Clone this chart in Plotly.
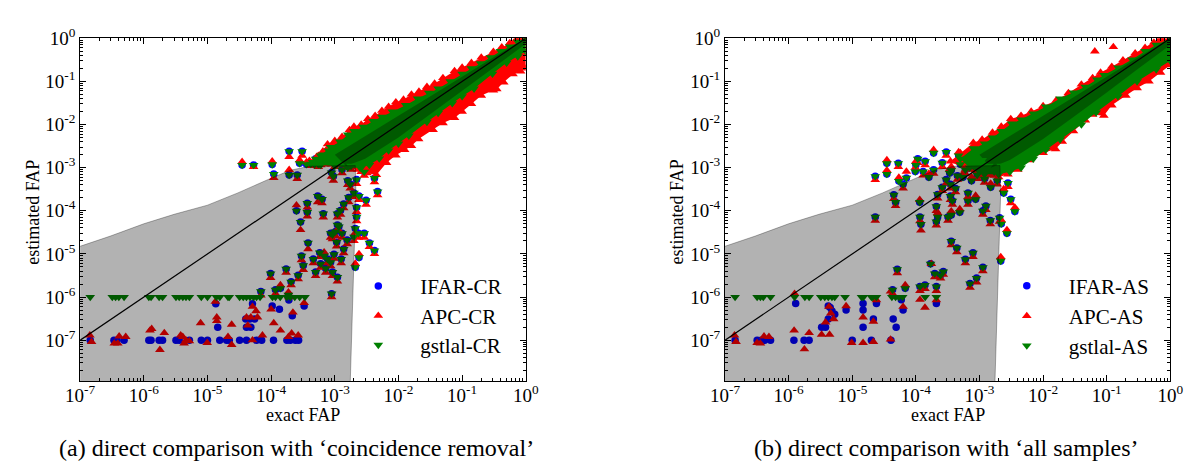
import plotly.graph_objects as go

W, H = 1198, 465
FONT = "Liberation Serif"

# ---------------- axis ticks ----------------
DECADES = list(range(-7, 1))
TICK_VALS = [10.0 ** e for e in DECADES]
TICK_TEXT = ["10<sup>%d</sup>" % e for e in DECADES]
MINOR_VALS = [k * 10.0 ** e for e in range(-8, 0) for k in range(2, 10)]

# ---------------- shaded region (same in both panels) ----------------
SHADE_UPPER = [(9e-8, 1.43e-5), (3e-7, 2.6e-5), (1e-6, 5.0e-5), (3e-6, 8.3e-5), (1e-5, 1.35e-4),
               (3e-5, 2.6e-4), (1e-4, 5.7e-4), (2e-4, 8.7e-4), (4e-4, 1.08e-3), (1e-3, 1.12e-3),
               (2.1e-3, 1.12e-3)]
SHADE_RIGHT = [(2.15e-3, 2.5e-4), (2.0e-3, 5e-6), (1.74e-3, 8e-9), (9e-8, 8e-9)]
DIAG = [1e-7, 1.0]

# ================= panel (a): coincidence removal =================
CR_IFAR = [
    (1.44e-7, 1e-7), (3.4e-7, 1e-7), (3.8e-7, 1e-7), (4.9e-7, 1e-7), (1.2e-6, 1e-7), (1.3e-6, 1e-7),
    (1.74e-6, 1e-7), (1.97e-6, 1e-7), (3.2e-6, 1e-7), (3.6e-6, 1e-7), (5.2e-6, 1e-7), (8.0e-6, 1e-7),
    (1.0e-5, 1e-7), (1.56e-5, 1e-7), (2.0e-5, 1e-7), (2.2e-5, 1e-7), (3.2e-5, 1e-7), (4.1e-5, 1e-7),
    (5.9e-5, 1e-7), (7.1e-5, 1e-7), (1.09e-4, 1e-7), (1.77e-4, 1e-7), (2.0e-4, 1e-7), (2.4e-4, 1e-7),
    (2.7e-4, 1e-7),
    (1.35e-5, 7.0e-7), (1.45e-5, 2.0e-7), (4.0e-5, 3.1e-7), (4.1e-5, 2.0e-7), (4.6e-5, 3.1e-7),
    (4.8e-5, 2.0e-7), (5.1e-5, 7.0e-7), (5.5e-5, 3.1e-7), (1.04e-4, 6.2e-7), (1.35e-4, 5.2e-7),
    (1.9e-4, 8.5e-7), (2.15e-4, 3.7e-7), (3.3e-4, 6.2e-7),
    (8.9e-4, 1.2e-6), (6.9e-5, 1.35e-6), (9.8e-5, 3.5e-6), (1.17e-4, 1.47e-6), (1.4e-4, 1.6e-6),
    (1.72e-4, 4.5e-6), (1.87e-4, 1.13e-6), (2.06e-4, 2.26e-6), (2.66e-4, 3.2e-6), (3.0e-4, 9.0e-6),
    (3.2e-4, 5.4e-6), (4.6e-4, 7.6e-6), (5.0e-4, 3.8e-6), (5.8e-4, 1.07e-5), (6.0e-4, 5.9e-6),
    (6.8e-4, 9.0e-6), (7.2e-4, 4.6e-6), (7.7e-4, 7.6e-6), (8.6e-4, 6.4e-6), (9.2e-4, 3.8e-6),
    (9.7e-4, 9.8e-6), (1.1e-3, 2.9e-6), (1.26e-3, 7.6e-6), (2.1e-3, 4.9e-6), (2.4e-3, 8.3e-6),
    (3.8e-4, 1.8e-5), (2.9e-4, 5.5e-5), (2.5e-4, 1.0e-4), (3.7e-4, 9.3e-5), (6.6e-4, 8.6e-5),
    (9.2e-4, 2.8e-5), (1.03e-3, 3.3e-5), (1.07e-3, 1.87e-5), (1.1e-3, 4.7e-5), (1.16e-3, 4.3e-5),
    (8.6e-4, 3.0e-5), (1.1e-3, 8.6e-5), (1.23e-3, 1.02e-4), (1.3e-3, 3.0e-5), (1.38e-3, 1.3e-5),
    (1.56e-3, 2.1e-5), (2.0e-3, 2.5e-5), (2.1e-3, 3.9e-5), (2.35e-3, 3.0e-5), (2.9e-3, 3.0e-5),
    (3.5e-3, 1.8e-5), (4.2e-3, 1.2e-5), (2.2e-3, 7.2e-5),
    (3.7e-4, 1.5e-4), (5.4e-4, 2.2e-4), (6.3e-4, 1.86e-4), (1.38e-3, 1.44e-4), (1.65e-3, 2.04e-4),
    (2.2e-3, 1.2e-4), (3.1e-3, 1.75e-4), (1.75e-3, 4.1e-4), (2.2e-3, 5.3e-4), (4.7e-3, 2.8e-4),
    (4.2e-3, 5.7e-4), (1.92e-4, 6.8e-4), (2.57e-4, 6.8e-4), (1.1e-4, 7.1e-4), (8.9e-4, 7.7e-4),
    (9.5e-4, 6.3e-4), (2.0e-3, 2.6e-4), (2.4e-3, 2.2e-4), (1.6e-3, 5.0e-4), (2.9e-3, 8.0e-4),
    (3.5e-5, 1.15e-3), (5.3e-5, 1.15e-3), (1.04e-4, 1.19e-3), (1.92e-4, 2.4e-3), (3.07e-4, 2.4e-3),
    (2.8e-4, 1.26e-3), (3.6e-4, 1.2e-3), (4.2e-4, 1.22e-3), (4.8e-4, 1.18e-3), (5.5e-4, 1.2e-3),
    (6.2e-4, 1.3e-3), (7.0e-4, 1.4e-3), (8.0e-4, 1.5e-3), (9.0e-4, 1.4e-3), (5.0e-4, 1.6e-3),
    (6.5e-4, 2.0e-3), (8.0e-4, 2.5e-3), (1.3e-3, 9.0e-4), (1.8e-3, 1.1e-3), (2.6e-3, 1.0e-3),
]
CR_APC = [
    (1.42e-7, 1.3e-7), (1.51e-7, 9.2e-8), (3.44e-7, 8.4e-8), (3.9e-7, 8.4e-8), (4.1e-7, 1.23e-7),
    (5.2e-7, 1.2e-7), (1.25e-6, 1.68e-7), (1.33e-6, 1.84e-7), (1.79e-6, 6.0e-8), (2.1e-6, 1.47e-7),
    (3.8e-6, 1.3e-7), (4.1e-6, 1.2e-7), (4.3e-6, 8.4e-8), (4.6e-6, 1.0e-7), (5.2e-6, 9.5e-8),
    (7.8e-6, 2.5e-7), (9.9e-6, 8.7e-8), (1.4e-5, 3.4e-7), (1.4e-5, 2.8e-7), (2.1e-5, 1.2e-7),
    (2.4e-5, 2.3e-7), (2.4e-5, 7.8e-8), (4.1e-5, 3.4e-7), (4.3e-5, 2.2e-7), (4.8e-5, 3.4e-7),
    (5.1e-5, 1.0e-7), (5.8e-5, 4.75e-7), (6.1e-5, 3.4e-7), (7.3e-5, 1.3e-7), (1.1e-4, 2.5e-7),
    (1.4e-4, 1.68e-7), (1.87e-4, 1.2e-7), (2.1e-4, 1.45e-7), (2.66e-4, 1.3e-7),
    (1.33e-5, 7.8e-7), (5.1e-5, 6.0e-7), (1.0e-4, 5.2e-7), (2.2e-4, 4.4e-7), (1.9e-4, 1.0e-6),
    (3.3e-4, 7.3e-7),
    (6.9e-5, 1.1e-6), (9.8e-5, 2.8e-6), (1.17e-4, 1.2e-6), (1.4e-4, 1.9e-6), (1.72e-4, 3.7e-6),
    (1.87e-4, 1.3e-6), (2.06e-4, 1.9e-6), (2.66e-4, 2.6e-6), (3.0e-4, 7.2e-6), (3.2e-4, 4.3e-6),
    (4.6e-4, 6.1e-6), (5.0e-4, 3.1e-6), (5.8e-4, 8.5e-6), (6.0e-4, 4.8e-6), (6.8e-4, 1.1e-5),
    (7.2e-4, 3.7e-6), (7.7e-4, 6.1e-6), (8.6e-4, 5.2e-6), (9.2e-4, 3.1e-6), (9.7e-4, 7.8e-6),
    (1.1e-3, 2.3e-6), (1.26e-3, 6.1e-6), (2.1e-3, 6.0e-6), (2.4e-3, 1.0e-5), (8.9e-4, 1.0e-6),
    (3.8e-4, 1.3e-5), (2.9e-4, 3.6e-5), (2.5e-4, 1.35e-4), (3.7e-4, 7.4e-5), (6.6e-4, 7.0e-5),
    (9.2e-4, 2.2e-5), (1.03e-3, 2.6e-5), (1.07e-3, 1.5e-5), (1.1e-3, 3.7e-5), (1.16e-3, 3.5e-5),
    (8.6e-4, 2.4e-5), (1.1e-3, 7.0e-5), (1.23e-3, 8.2e-5), (1.3e-3, 2.4e-5), (1.38e-3, 1.05e-5),
    (1.56e-3, 1.7e-5), (2.0e-3, 2.0e-5), (2.1e-3, 3.1e-5), (2.35e-3, 2.4e-5), (2.9e-3, 2.4e-5),
    (3.5e-3, 1.45e-5), (4.2e-3, 1.0e-5), (2.2e-3, 5.8e-5),
    (3.7e-4, 1.2e-4), (5.4e-4, 1.6e-4), (6.3e-4, 1.5e-4), (1.38e-3, 1.15e-4), (1.65e-3, 1.6e-4),
    (2.2e-3, 9.5e-5), (3.1e-3, 1.4e-4), (1.75e-3, 3.3e-4), (2.2e-3, 4.2e-4), (4.7e-3, 2.3e-4),
    (4.2e-3, 4.6e-4), (1.92e-4, 8.9e-4), (2.57e-4, 5.5e-4), (1.1e-4, 5.8e-4), (8.9e-4, 6.2e-4),
    (9.5e-4, 5.0e-4), (2.0e-3, 2.1e-4), (2.4e-3, 1.8e-4), (1.6e-3, 4.0e-4), (2.9e-3, 6.5e-4),
    (3.5e-5, 1.37e-3), (5.3e-5, 1.05e-3), (1.04e-4, 1.4e-3), (1.92e-4, 1.78e-3), (3.07e-4, 1.9e-3),
    (2.8e-4, 1.5e-3), (3.6e-4, 1.35e-3), (4.2e-4, 1.1e-3), (4.8e-4, 1.4e-3), (5.5e-4, 1.05e-3),
    (6.2e-4, 1.55e-3), (7.0e-4, 1.2e-3), (8.0e-4, 1.75e-3), (9.0e-4, 1.2e-3), (5.2e-4, 1.8e-3),
    (6.5e-4, 2.4e-3), (8.0e-4, 2.1e-3), (1.3e-3, 7.5e-4), (1.8e-3, 9.0e-4), (2.6e-3, 8.0e-4),
]
CR_GSTLAL = [
    (1.44e-7, 1e-6), (3.2e-7, 1e-6), (3.6e-7, 1e-6), (4.05e-7, 1e-6), (4.9e-7, 1e-6), (1.2e-6, 1e-6),
    (1.3e-6, 1e-6), (1.74e-6, 1e-6), (1.97e-6, 1e-6), (3.2e-6, 1e-6), (3.6e-6, 1e-6), (4.1e-6, 1e-6),
    (4.6e-6, 1e-6), (5.2e-6, 1e-6), (8.0e-6, 1e-6), (1.0e-5, 1e-6), (1.38e-5, 1e-6), (1.56e-5, 1e-6),
    (2.1e-5, 1e-6), (2.2e-5, 1e-6), (3.2e-5, 1e-6), (3.65e-5, 1e-6), (4.1e-5, 1e-6), (4.65e-5, 1e-6),
    (5.3e-5, 1e-6), (5.9e-5, 1e-6), (6.7e-5, 1e-6), (1.05e-4, 1e-6), (1.17e-4, 1e-6), (1.39e-4, 1e-6),
    (1.77e-4, 1e-6), (2.0e-4, 1e-6), (2.35e-4, 1e-6), (2.8e-4, 1e-6), (3.4e-4, 1e-6),
    (8.9e-4, 1.2e-6), (6.9e-5, 1.35e-6), (9.8e-5, 3.5e-6), (1.17e-4, 1.47e-6), (1.4e-4, 1.6e-6),
    (1.72e-4, 4.5e-6), (1.87e-4, 1.13e-6), (2.06e-4, 2.26e-6), (2.66e-4, 3.2e-6), (3.0e-4, 9.0e-6),
    (3.2e-4, 5.4e-6), (4.6e-4, 7.6e-6), (5.0e-4, 3.8e-6), (5.8e-4, 1.07e-5), (6.0e-4, 5.9e-6),
    (6.8e-4, 9.0e-6), (7.2e-4, 4.6e-6), (7.7e-4, 7.6e-6), (8.6e-4, 6.4e-6), (9.2e-4, 3.8e-6),
    (9.7e-4, 9.8e-6), (1.1e-3, 2.9e-6), (1.26e-3, 7.6e-6), (2.1e-3, 4.9e-6), (2.4e-3, 8.3e-6),
    (3.8e-4, 1.8e-5), (2.9e-4, 5.5e-5), (2.5e-4, 1.0e-4), (3.7e-4, 9.3e-5), (6.6e-4, 8.6e-5),
    (9.2e-4, 2.8e-5), (1.03e-3, 3.3e-5), (1.07e-3, 1.87e-5), (1.1e-3, 4.7e-5), (1.16e-3, 4.3e-5),
    (8.6e-4, 3.0e-5), (1.1e-3, 8.6e-5), (1.23e-3, 1.02e-4), (1.3e-3, 3.0e-5), (1.38e-3, 1.3e-5),
    (1.56e-3, 2.1e-5), (2.0e-3, 2.5e-5), (2.1e-3, 3.9e-5), (2.35e-3, 3.0e-5), (2.9e-3, 3.0e-5),
    (3.5e-3, 1.8e-5), (4.2e-3, 1.2e-5), (2.2e-3, 7.2e-5),
    (3.7e-4, 1.5e-4), (5.4e-4, 2.2e-4), (6.3e-4, 1.86e-4), (1.38e-3, 1.44e-4), (1.65e-3, 2.04e-4),
    (2.2e-3, 1.2e-4), (3.1e-3, 1.75e-4), (1.75e-3, 4.1e-4), (2.2e-3, 5.3e-4), (4.7e-3, 2.8e-4),
    (4.2e-3, 5.7e-4), (1.92e-4, 6.8e-4), (2.57e-4, 6.8e-4), (1.1e-4, 7.1e-4), (8.9e-4, 7.7e-4),
    (9.5e-4, 6.3e-4), (2.0e-3, 2.6e-4), (2.4e-3, 2.2e-4), (1.6e-3, 5.0e-4), (2.9e-3, 8.0e-4),
    (3.5e-5, 1.15e-3), (5.3e-5, 1.15e-3), (1.04e-4, 1.19e-3), (1.92e-4, 2.4e-3), (3.07e-4, 2.4e-3),
    (2.8e-4, 1.26e-3), (3.6e-4, 1.2e-3), (4.2e-4, 1.22e-3), (4.8e-4, 1.18e-3), (5.5e-4, 1.2e-3),
    (6.2e-4, 1.3e-3), (7.0e-4, 1.4e-3), (8.0e-4, 1.5e-3), (9.0e-4, 1.4e-3), (5.0e-4, 1.6e-3),
    (6.5e-4, 2.0e-3), (8.0e-4, 2.5e-3), (1.3e-3, 9.0e-4), (1.8e-3, 1.1e-3), (2.6e-3, 1.0e-3),
]
# dense high-FAP band outlines (points sit on the edges of the dense clouds)
CR_APC_UPPER = [(4.0e-4, 1.45e-3), (5.5e-4, 1.9e-3), (7.7e-4, 3.5e-3), (1.0e-3, 4.2e-3), (1.3e-3, 5.2e-3),
                (1.7e-3, 7.5e-3), (2.0e-3, 9.0e-3), (2.6e-3, 1.0e-2), (3.3e-3, 1.35e-2), (4.3e-3, 1.6e-2),
                (5.5e-3, 2.1e-2), (7.0e-3, 2.6e-2), (9.1e-3, 3.3e-2), (1.2e-2, 3.8e-2), (1.6e-2, 5.0e-2),
                (2.1e-2, 5.8e-2), (2.8e-2, 7.5e-2), (3.7e-2, 9.0e-2), (5.0e-2, 0.12), (7.6e-2, 0.175),
                (0.1, 0.21), (0.14, 0.27), (0.2, 0.36), (0.31, 0.49), (0.42, 0.62), (0.56, 0.78),
                (0.7, 0.92), (0.8, 1.0), (1.0, 1.0)]
CR_APC_LOWER = [(1.0, 0.2), (0.83, 0.17), (0.63, 0.147), (0.45, 0.095), (0.35, 0.066), (0.31, 0.062),
                (0.2, 0.047), (0.14, 0.03), (0.1, 0.02), (0.076, 0.0142), (0.05, 0.0108), (0.035, 7.5e-3),
                (0.0207, 4.6e-3), (0.016, 3.2e-3), (0.0125, 2.6e-3), (9.1e-3, 1.93e-3), (6.5e-3, 1.3e-3),
                (4.5e-3, 6.8e-4), (3.2e-3, 7.5e-4), (2.3e-3, 9.0e-4), (1.5e-3, 1.0e-3), (1.0e-3, 1.05e-3),
                (6.0e-4, 1.15e-3)]
CR_GST_UPPER = [(4.5e-4, 1.35e-3), (6.0e-4, 1.9e-3), (8.6e-4, 3.0e-3), (1.2e-3, 4.0e-3), (1.6e-3, 5.8e-3),
                (2.0e-3, 7.0e-3), (2.8e-3, 8.8e-3), (4.0e-3, 1.2e-2), (5.5e-3, 1.5e-2), (8.0e-3, 2.0e-2),
                (1.3e-2, 2.8e-2), (2.0e-2, 4.0e-2), (3.0e-2, 5.4e-2), (4.2e-2, 6.8e-2), (6.5e-2, 0.1),
                (0.1, 0.15), (0.14, 0.2), (0.195, 0.26), (0.28, 0.36), (0.4, 0.5), (0.56, 0.64),
                (0.75, 0.82), (1.0, 1.0)]
CR_GST_LOWER = [(1.0, 0.5), (0.75, 0.38), (0.5, 0.27), (0.3, 0.15), (0.154, 0.068), (0.1, 0.045),
                (0.07, 0.031), (0.042, 0.0184), (0.028, 0.0115), (0.0146, 5.5e-3), (0.01, 3.6e-3),
                (7e-3, 2.5e-3), (5e-3, 1.63e-3), (3.5e-3, 1.15e-3), (2.5e-3, 1.0e-3), (1.6e-3, 1.0e-3),
                (1.0e-3, 1.1e-3), (6.0e-4, 1.15e-3)]
CR_CORE_UPPER = [(1.0e-3, 2.0e-3), (3e-3, 5.5e-3), (1e-2, 1.6e-2), (3e-2, 4.3e-2), (0.1, 0.13),
                 (0.3, 0.35), (1.0, 1.0)]
CR_CORE_LOWER = [(1.0, 0.75), (0.3, 0.2), (0.1, 0.06), (3e-2, 1.6e-2), (1e-2, 5e-3), (3e-3, 1.6e-3),
                 (1.5e-3, 1.1e-3)]

# ================= panel (b): all samples =================
AS_IFAR = [
    (1.44e-7, 1e-7), (3.2e-7, 1e-7), (3.7e-7, 1e-7), (4.2e-7, 1e-7), (5.2e-7, 1e-7), (1.21e-6, 1e-7),
    (1.75e-6, 1e-7), (2.1e-6, 1e-7), (1.0e-5, 1e-7), (2.0e-5, 1e-7), (4.05e-5, 1e-7),
    (1.29e-6, 7.1e-7), (3.3e-6, 2.0e-7), (3.8e-6, 2.0e-7), (4.2e-6, 3.1e-7), (4.2e-6, 6.2e-7),
    (4.5e-6, 5.7e-7), (4.8e-6, 4.75e-7), (5.3e-6, 4.0e-7), (8.0e-6, 5.0e-7), (1.48e-5, 7.1e-7),
    (1.48e-5, 5.0e-7), (1.48e-5, 2.0e-7), (2.15e-5, 3.1e-7), (2.4e-5, 7.1e-7), (4.4e-5, 3.1e-7),
    (4.9e-5, 2.0e-7), (5.9e-5, 8.7e-7), (6.3e-5, 5.0e-7), (2.1e-4, 7.1e-7),
    (4.3e-5, 1.47e-6), (5.1e-5, 4.4e-6), (6.8e-5, 1.6e-6), (1.16e-4, 1.75e-6), (1.39e-4, 1.9e-6),
    (1.7e-4, 5.9e-6), (1.98e-4, 3.5e-6), (2.1e-4, 1.75e-6), (2.44e-4, 3.2e-6), (2.7e-4, 3.9e-6),
    (6.0e-4, 7.5e-6), (7.1e-4, 2.06e-6), (9.0e-4, 2.75e-6), (1.13e-3, 4.9e-6), (2.16e-3, 6.9e-6),
    (3.6e-4, 1.97e-5), (4.4e-4, 1.38e-5), (7.9e-4, 1.06e-5), (2.3e-5, 7.2e-5), (1.16e-4, 7.2e-5),
    (1.2e-4, 4.9e-5), (2.2e-4, 7.2e-5), (2.1e-4, 5.6e-5), (3.2e-4, 7.2e-5), (4.9e-4, 9.2e-5),
    (3.6e-4, 8.0e-5), (1.48e-3, 6.0e-5), (2.07e-3, 6.9e-5), (2.2e-3, 5.0e-5), (2.7e-3, 3.0e-5),
    (3.6e-3, 9.7e-5), (1.13e-3, 1.0e-4),
    (2.3e-5, 6.3e-4), (3.5e-5, 7.1e-4), (4.5e-5, 2.35e-4), (4.8e-5, 1.58e-4), (5.4e-5, 4.9e-4),
    (6.3e-5, 4.1e-4), (7.1e-5, 5.8e-4), (9.8e-5, 8.1e-4), (1.3e-4, 8.1e-4), (1.15e-4, 1.58e-4),
    (1.9e-4, 8.9e-4), (2.1e-4, 1.26e-4), (3.0e-4, 5.3e-4), (3.4e-4, 7.5e-4), (3.5e-4, 4.1e-4),
    (3.5e-4, 2.2e-4), (3.6e-4, 8.7e-4), (3.75e-4, 1.7e-4), (6.6e-4, 2.6e-4), (6.6e-4, 1.7e-4),
    (8.7e-4, 1.85e-4), (1.26e-3, 1.3e-4), (2.4e-3, 2.6e-4), (3.1e-3, 1.85e-4), (2.8e-3, 4.4e-4),
    (9.2e-4, 6.8e-4), (2.2e-4, 2.4e-4), (5.5e-4, 6.0e-4), (6.0e-4, 9.0e-4), (7.5e-4, 5.0e-4),
    (1.0e-3, 8.0e-4), (1.2e-3, 5.5e-4), (1.5e-3, 3.5e-4), (1.7e-3, 8.0e-4), (1.9e-3, 5.0e-4),
    (4.2e-4, 3.3e-4), (4.5e-4, 6.5e-4), (2.6e-4, 3.5e-4), (1.6e-4, 6.0e-4),
    (3.5e-5, 1.26e-3), (5.3e-5, 1.26e-3), (1.0e-4, 1.15e-3), (1.07e-4, 1.6e-3), (1.9e-4, 2.2e-3),
    (3.0e-4, 2.3e-3), (4.7e-4, 1.9e-3), (5.0e-4, 1.2e-3), (7.0e-4, 1.4e-3), (8.0e-4, 1.1e-3),
    (1.1e-3, 1.5e-3), (1.4e-3, 1.1e-3), (2.2e-3, 1.1e-3), (2.6e-4, 1.3e-3), (1.4e-4, 1.4e-3),
]
AS_APC = [
    (1.41e-7, 1.3e-7), (1.49e-7, 9.2e-8), (3.2e-7, 8.7e-8), (3.6e-7, 8.4e-8), (4.1e-7, 1.23e-7),
    (4.9e-7, 1.2e-7), (1.22e-6, 1.68e-7), (1.77e-6, 6.2e-8), (2.1e-6, 1.47e-7), (3.3e-6, 1.35e-7),
    (4.4e-6, 1.35e-7), (9.8e-6, 8.7e-8), (1.48e-5, 8.7e-8), (2.15e-5, 9.2e-8), (4.0e-5, 1.04e-7),
    (1.24e-6, 1.2e-6), (3.8e-6, 2.6e-7), (4.3e-6, 6.0e-7), (5.1e-6, 3.1e-7), (4.6e-6, 4.2e-7),
    (1.48e-5, 3.4e-7), (2.15e-5, 2.7e-7), (8.0e-6, 6.2e-7), (2.4e-5, 8.5e-7), (4.0e-5, 1.35e-6),
    (1.16e-4, 8.7e-7), (1.39e-4, 5.7e-7), (2.1e-4, 8.5e-7), (6.3e-5, 6.0e-7),
    (4.3e-5, 1.2e-6), (5.1e-5, 3.6e-6), (6.8e-5, 1.9e-6), (1.16e-4, 1.4e-6), (1.39e-4, 1.55e-6),
    (1.75e-4, 5.9e-6), (1.98e-4, 2.9e-6), (2.1e-4, 1.4e-6), (2.44e-4, 2.7e-6), (2.7e-4, 3.3e-6),
    (6.0e-4, 6.1e-6), (7.1e-4, 1.65e-6), (9.0e-4, 2.2e-6), (1.13e-3, 4.0e-6), (2.16e-3, 8.5e-6),
    (3.6e-4, 1.6e-5), (4.4e-4, 1.1e-5), (7.9e-4, 8.5e-6), (2.3e-5, 5.9e-5), (1.16e-4, 5.8e-5),
    (1.2e-4, 3.5e-5), (2.2e-4, 8.9e-5), (2.1e-4, 4.6e-5), (3.2e-4, 5.9e-5), (4.9e-4, 1.1e-4),
    (3.6e-4, 9.8e-5), (1.48e-3, 4.9e-5), (2.07e-3, 5.6e-5), (2.2e-3, 6.1e-5), (2.7e-3, 3.6e-5),
    (3.6e-3, 1.2e-4), (1.13e-3, 8.2e-5),
    (2.3e-5, 5.2e-4), (3.5e-5, 8.7e-4), (4.5e-5, 1.9e-4), (4.8e-5, 1.3e-4), (5.4e-5, 5.9e-4),
    (6.3e-5, 3.3e-4), (7.1e-5, 8.1e-4), (9.8e-5, 1.0e-3), (1.3e-4, 6.6e-4), (1.15e-4, 1.8e-4),
    (1.9e-4, 7.3e-4), (2.1e-4, 1.0e-4), (3.0e-4, 4.3e-4), (3.4e-4, 9.2e-4), (3.5e-4, 3.3e-4),
    (3.5e-4, 1.8e-4), (3.6e-4, 1.06e-3), (3.75e-4, 1.4e-4), (6.6e-4, 2.1e-4), (6.6e-4, 1.4e-4),
    (8.7e-4, 2.25e-4), (1.26e-3, 1.05e-4), (2.4e-3, 3.2e-4), (3.1e-3, 1.5e-4), (2.8e-3, 3.6e-4),
    (9.2e-4, 5.5e-4), (2.2e-4, 1.95e-4), (5.5e-4, 7.3e-4), (6.0e-4, 7.3e-4), (7.5e-4, 6.1e-4),
    (1.0e-3, 6.5e-4), (1.2e-3, 4.5e-4), (1.5e-3, 4.3e-4), (1.7e-3, 6.5e-4), (1.9e-3, 4.1e-4),
    (4.2e-4, 2.7e-4), (4.5e-4, 5.3e-4), (2.6e-4, 2.9e-4), (1.6e-4, 7.3e-4),
    (3.5e-5, 1.5e-3), (5.3e-5, 1.05e-3), (1.0e-4, 1.4e-3), (1.07e-4, 1.3e-3), (1.9e-4, 2.6e-3),
    (3.0e-4, 1.9e-3), (4.7e-4, 2.3e-3), (5.0e-4, 1.45e-3), (7.0e-4, 1.15e-3), (8.0e-4, 1.35e-3),
    (1.1e-3, 1.25e-3), (1.4e-3, 1.3e-3), (2.2e-3, 9.0e-4), (2.6e-4, 1.05e-3), (1.4e-4, 1.15e-3),
    (0.065, 0.5), (0.127, 0.63),
]
AS_GSTLAL = [
    (1.44e-7, 1e-6), (3.2e-7, 1e-6), (3.6e-7, 1e-6), (4.0e-7, 1e-6), (5.2e-7, 1e-6), (1.24e-6, 1e-6),
    (1.8e-6, 1e-6), (2.1e-6, 1e-6), (3.2e-6, 1e-6), (3.7e-6, 1e-6), (4.2e-6, 1e-6), (4.8e-6, 1e-6),
    (5.3e-6, 1e-6), (7.7e-6, 1e-6), (1.4e-5, 1e-6), (1.5e-5, 1e-6), (2.0e-5, 1e-6), (2.1e-5, 1e-6),
    (2.4e-5, 1e-6), (4.2e-5, 1e-6), (4.8e-5, 1e-6), (5.4e-5, 1e-6), (6.2e-5, 1e-6), (1.4e-4, 1e-6),
    (2.1e-4, 1e-6),
    (4.3e-5, 1.47e-6), (5.1e-5, 4.4e-6), (6.8e-5, 1.6e-6), (1.16e-4, 1.75e-6), (1.39e-4, 1.9e-6),
    (1.7e-4, 5.9e-6), (1.98e-4, 3.5e-6), (2.1e-4, 1.75e-6), (2.44e-4, 3.2e-6), (2.7e-4, 3.9e-6),
    (6.0e-4, 7.5e-6), (7.1e-4, 2.06e-6), (9.0e-4, 2.75e-6), (1.13e-3, 4.9e-6), (2.16e-3, 6.9e-6),
    (3.6e-4, 1.97e-5), (4.4e-4, 1.38e-5), (7.9e-4, 1.06e-5), (2.3e-5, 7.2e-5), (1.16e-4, 7.2e-5),
    (1.2e-4, 4.9e-5), (2.2e-4, 7.2e-5), (2.1e-4, 5.6e-5), (3.2e-4, 7.2e-5), (4.9e-4, 9.2e-5),
    (3.6e-4, 8.0e-5), (1.48e-3, 6.0e-5), (2.07e-3, 6.9e-5), (2.2e-3, 5.0e-5), (2.7e-3, 3.0e-5),
    (3.6e-3, 9.7e-5), (1.13e-3, 1.0e-4),
    (2.3e-5, 6.3e-4), (3.5e-5, 7.1e-4), (4.5e-5, 2.35e-4), (4.8e-5, 1.58e-4), (5.4e-5, 4.9e-4),
    (6.3e-5, 4.1e-4), (7.1e-5, 5.8e-4), (9.8e-5, 8.1e-4), (1.3e-4, 8.1e-4), (1.15e-4, 1.58e-4),
    (1.9e-4, 8.9e-4), (2.1e-4, 1.26e-4), (3.0e-4, 5.3e-4), (3.4e-4, 7.5e-4), (3.5e-4, 4.1e-4),
    (3.5e-4, 2.2e-4), (3.6e-4, 8.7e-4), (3.75e-4, 1.7e-4), (6.6e-4, 2.6e-4), (6.6e-4, 1.7e-4),
    (8.7e-4, 1.85e-4), (1.26e-3, 1.3e-4), (2.4e-3, 2.6e-4), (3.1e-3, 1.85e-4), (2.8e-3, 4.4e-4),
    (9.2e-4, 6.8e-4), (2.2e-4, 2.4e-4), (5.5e-4, 6.0e-4), (6.0e-4, 9.0e-4), (7.5e-4, 5.0e-4),
    (1.0e-3, 8.0e-4), (1.2e-3, 5.5e-4), (1.5e-3, 3.5e-4), (1.7e-3, 8.0e-4), (1.9e-3, 5.0e-4),
    (4.2e-4, 3.3e-4), (4.5e-4, 6.5e-4), (2.6e-4, 3.5e-4), (1.6e-4, 6.0e-4),
    (3.5e-5, 1.26e-3), (5.3e-5, 1.26e-3), (1.0e-4, 1.15e-3), (1.07e-4, 1.6e-3), (1.9e-4, 2.2e-3),
    (3.0e-4, 2.3e-3), (4.7e-4, 1.9e-3), (5.0e-4, 1.2e-3), (7.0e-4, 1.4e-3), (8.0e-4, 1.1e-3),
    (1.1e-3, 1.5e-3), (1.4e-3, 1.1e-3), (2.2e-3, 1.1e-3), (2.6e-4, 1.3e-3), (1.4e-4, 1.4e-3),
]
AS_APC_UPPER = [(3.5e-4, 1.4e-3), (5e-4, 2.2e-3), (8e-4, 3.8e-3), (1.1e-3, 4.5e-3), (1.6e-3, 6.5e-3),
                (2.2e-3, 9e-3), (3.1e-3, 1.35e-2), (4.5e-3, 1.6e-2), (6.5e-3, 2.0e-2), (1e-2, 2.7e-2),
                (1.6e-2, 3.6e-2), (2.5e-2, 5.4e-2), (4e-2, 8.5e-2), (6e-2, 0.12), (8e-2, 0.16),
                (0.12, 0.22), (0.18, 0.31), (0.28, 0.45), (0.4, 0.6), (0.55, 0.8), (0.7, 1.0), (1.0, 1.0)]
AS_APC_LOWER = [(1.0, 0.24), (0.7, 0.16), (0.46, 0.10), (0.3, 0.07), (0.2, 0.047), (0.12, 0.028),
                (0.09, 0.016), (0.06, 0.017), (0.046, 0.0125), (0.03, 7e-3), (0.02, 4e-3), (0.0157, 2.7e-3),
                (0.01, 2.2e-3), (6.1e-3, 1.5e-3), (4e-3, 9e-4), (2.8e-3, 7e-4), (2e-3, 6e-4),
                (1.2e-3, 6e-4), (6e-4, 9e-4)]
AS_GST_UPPER = [(5e-4, 1.6e-3), (8e-4, 2.8e-3), (1.2e-3, 3.6e-3), (1.6e-3, 5e-3), (2.2e-3, 7e-3),
                (3.2e-3, 1.05e-2), (4.5e-3, 1.3e-2), (7e-3, 1.8e-2), (1.1e-2, 2.6e-2), (1.85e-2, 4.0e-2),
                (3e-2, 5.5e-2), (4.6e-2, 7.5e-2), (7e-2, 0.11), (0.091, 0.14), (0.15, 0.21), (0.25, 0.32),
                (0.4, 0.5), (0.6, 0.7), (1.0, 1.0)]
AS_GST_LOWER = [(1.0, 0.3), (0.6, 0.19), (0.3, 0.1), (0.15, 0.045), (0.068, 0.019), (0.04, 1.0e-2),
                (0.0185, 4.5e-3), (1.1e-2, 2.6e-3), (7e-3, 1.6e-3), (4.5e-3, 1.0e-3), (3e-3, 8e-4),
                (2e-3, 7e-4), (1.2e-3, 7e-4), (7e-4, 1.0e-3)]
AS_CORE_UPPER = [(1.0e-3, 2.0e-3), (3e-3, 5.5e-3), (1e-2, 1.6e-2), (3e-2, 4.3e-2), (0.1, 0.13),
                 (0.3, 0.35), (1.0, 1.0)]
AS_CORE_LOWER = [(1.0, 0.7), (0.3, 0.19), (0.1, 0.055), (3e-2, 1.5e-2), (1e-2, 4.6e-3), (3e-3, 1.5e-3),
                 (1.5e-3, 1.0e-3)]

NAMES_CR = ["IFAR-CR", "APC-CR", "gstlal-CR"]
NAMES_AS = ["IFAR-AS", "APC-AS", "gstlal-AS"]

# ---------------- styling ----------------
BLUE, RED, GREEN, CORE = "#0000ff", "#ff0000", "#008000", "#005a00"
SHADE = "rgba(0,0,0,0.3)"

# frame positions (px)
L_X0, L_X1 = 66.7, 523.0
R_X0, R_X1 = 727.0, 1183.0
Y_TOP, Y_BOT = 26.0, 379.0


def xs(pts):
    return [p[0] for p in pts]


def ys(pts):
    return [p[1] for p in pts]


fig = go.Figure()


def panel(xa, ya, ifar, apc, gst, apc_up, apc_lo, g_up, g_lo, c_up, c_lo, names, legs):
    fig.add_trace(go.Scatter(x=xs(ifar), y=ys(ifar), mode="markers", xaxis=xa, yaxis=ya,
                             marker=dict(symbol="circle", size=7.5, color=BLUE, line=dict(width=0)),
                             name=names[0], legend=legs[0], showlegend=True))
    poly = apc_up + apc_lo
    fig.add_trace(go.Scatter(x=xs(poly), y=ys(poly), mode="lines+markers", fill="toself",
                             fillcolor=RED, line=dict(width=0, color=RED), xaxis=xa, yaxis=ya,
                             marker=dict(symbol="triangle-up", size=8.5, color=RED, line=dict(width=0)),
                             showlegend=False, hoverinfo="skip"))
    fig.add_trace(go.Scatter(x=xs(apc), y=ys(apc), mode="markers", xaxis=xa, yaxis=ya,
                             marker=dict(symbol="triangle-up", size=8.5, color=RED, line=dict(width=0)),
                             name=names[1], legend=legs[1], showlegend=True))
    poly = g_up + g_lo
    fig.add_trace(go.Scatter(x=xs(poly), y=ys(poly), mode="lines+markers", fill="toself",
                             fillcolor=GREEN, line=dict(width=0, color=GREEN), xaxis=xa, yaxis=ya,
                             marker=dict(symbol="triangle-down", size=8.5, color=GREEN, line=dict(width=0)),
                             showlegend=False, hoverinfo="skip"))
    poly = c_up + c_lo
    fig.add_trace(go.Scatter(x=xs(poly), y=ys(poly), mode="lines", fill="toself",
                             fillcolor=CORE, line=dict(width=0, color=CORE), xaxis=xa, yaxis=ya,
                             showlegend=False, hoverinfo="skip"))
    fig.add_trace(go.Scatter(x=xs(gst), y=ys(gst), mode="markers", xaxis=xa, yaxis=ya,
                             marker=dict(symbol="triangle-down", size=8.5, color=GREEN, line=dict(width=0)),
                             name=names[2], legend=legs[2], showlegend=True))
    fig.add_trace(go.Scatter(x=DIAG, y=DIAG, mode="lines", xaxis=xa, yaxis=ya,
                             line=dict(color="black", width=1.2), showlegend=False, hoverinfo="skip"))
    poly = SHADE_UPPER + SHADE_RIGHT
    fig.add_trace(go.Scatter(x=xs(poly), y=ys(poly), mode="lines", fill="toself",
                             fillcolor=SHADE, line=dict(width=1, color=SHADE), xaxis=xa, yaxis=ya,
                             showlegend=False, hoverinfo="skip"))


panel("x", "y", CR_IFAR, CR_APC, CR_GSTLAL, CR_APC_UPPER, CR_APC_LOWER, CR_GST_UPPER, CR_GST_LOWER,
      CR_CORE_UPPER, CR_CORE_LOWER, NAMES_CR, ["legend", "legend2", "legend3"])
panel("x2", "y2", AS_IFAR, AS_APC, AS_GSTLAL, AS_APC_UPPER, AS_APC_LOWER, AS_GST_UPPER, AS_GST_LOWER,
      AS_CORE_UPPER, AS_CORE_LOWER, NAMES_AS, ["legend4", "legend5", "legend6"])

axis_common = dict(
    type="log", tickmode="array", tickvals=TICK_VALS, ticktext=TICK_TEXT,
    ticks="inside", ticklen=6, tickwidth=1, tickcolor="black",
    showline=True, linecolor="black", linewidth=1, mirror="allticks",
    showgrid=False, zeroline=False,
    tickfont=dict(family=FONT, size=19, color="black"),
    minor=dict(tickmode="array", tickvals=MINOR_VALS, ticks="inside", ticklen=3,
               tickcolor="black", tickwidth=1, showgrid=False),
)
ydom = [1 - Y_BOT / H, 1 - Y_TOP / H]

ITEM_W = 74


def legend_at(mx, my):
    # legend symbol sits ~itemwidth/2 + 11 px right of the legend's left edge
    return dict(x=(mx - ITEM_W / 2 - 11) / W, y=1 - my / H, xanchor="left", yanchor="middle",
                xref="paper", yref="paper", bgcolor="rgba(0,0,0,0)", borderwidth=0,
                itemwidth=ITEM_W, font=dict(family=FONT, size=21, color="black"))


fig.update_layout(
    width=W, height=H, autosize=False,
    margin=dict(l=0, r=0, t=0, b=0),
    paper_bgcolor="white", plot_bgcolor="white",
    font=dict(family=FONT, color="black"),
    xaxis=dict(domain=[L_X0 / W, L_X1 / W], anchor="y", range=[-7, 0], ticklabelstandoff=-3,
               **axis_common),
    yaxis=dict(domain=ydom, anchor="x", range=[-7.955, 0], **axis_common),
    xaxis2=dict(domain=[R_X0 / W, R_X1 / W], anchor="y2", range=[-7, 0], ticklabelstandoff=-3,
                **axis_common),
    yaxis2=dict(domain=ydom, anchor="x2", range=[-7.955, 0], **axis_common),
    legend=legend_at(377, 281.2),
    legend2=legend_at(377, 311.8),
    legend3=legend_at(377, 341.8),
    legend4=legend_at(1041, 281.0),
    legend5=legend_at(1041, 312.0),
    legend6=legend_at(1041, 342.5),
    annotations=[
        dict(text="exact FAP", x=(L_X0 + L_X1) / 2 / W, y=1 - 414 / H, xref="paper", yref="paper",
             showarrow=False, font=dict(family=FONT, size=18), xanchor="center", yanchor="middle"),
        dict(text="exact FAP", x=(R_X0 + R_X1) / 2 / W, y=1 - 414 / H, xref="paper", yref="paper",
             showarrow=False, font=dict(family=FONT, size=18), xanchor="center", yanchor="middle"),
        dict(text="estimated FAP", x=19 / W, y=1 - 205 / H, xref="paper", yref="paper", textangle=-90,
             showarrow=False, font=dict(family=FONT, size=18), xanchor="center", yanchor="middle"),
        dict(text="estimated FAP", x=678 / W, y=1 - 205 / H, xref="paper", yref="paper", textangle=-90,
             showarrow=False, font=dict(family=FONT, size=18), xanchor="center", yanchor="middle"),
        dict(text="(a) direct comparison with ‘coincidence removal’", x=288 / W, y=1 - 447 / H,
             xref="paper", yref="paper", showarrow=False, font=dict(family=FONT, size=24),
             xanchor="center", yanchor="middle"),
        dict(text="(b) direct comparison with ‘all samples’", x=954 / W, y=1 - 447 / H,
             xref="paper", yref="paper", showarrow=False, font=dict(family=FONT, size=24),
             xanchor="center", yanchor="middle"),
    ],
)

fig.write_html("out.html")
